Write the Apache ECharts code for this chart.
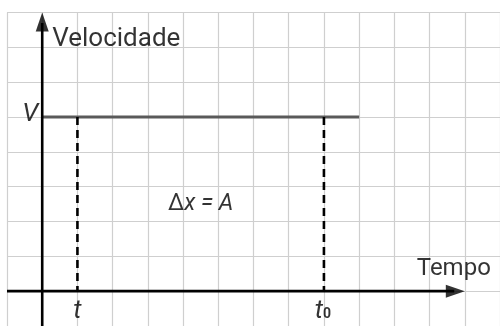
<!DOCTYPE html>
<html>
<head>
<meta charset="utf-8">
<script src="https://cdn.jsdelivr.net/npm/echarts@6/dist/echarts.min.js"></script>
<style>
  html, body { margin: 0; padding: 0; background: #ffffff; }
  #chart { width: 500px; height: 326px; }
</style>
</head>
<body>
<div id="chart"></div>
<script>
// Constant-velocity graph: v = V between t and t0; the area under it is the displacement.
const xRange = [-1, 13];          // time axis extent (grid cells)
const yRange = [-1, 8];           // velocity axis extent (grid cells)
const timeStart = 1;              // t
const timeEnd = 8;                // t0
const velocity = 5;               // V
const velocityLineEnd = 9;        // where the V line stops
const timeArrowEnd = 12;          // tip of the time axis arrow
const velocityArrowEnd = 8;       // tip of the velocity axis arrow

const axisLabels = { y: 'Velocidade', x: 'Tempo' };

const FONT = 'Roboto';

const chart = echarts.init(document.getElementById('chart'), null, { renderer: 'canvas' });

const dashed = { color: '#000', width: 2.6, type: [8, 5] };

function labelPoint(coord, label) {
  return { value: coord, label: Object.assign({ show: true }, label) };
}

chart.setOption({
  animation: false,
  backgroundColor: '#ffffff',
  grid: { left: 7, top: 12.5, width: 493, height: 315 },
  xAxis: {
    type: 'value', min: xRange[0], max: xRange[1], interval: 1,
    axisLine: { show: false }, axisTick: { show: false }, axisLabel: { show: false },
    splitLine: { show: true, lineStyle: { color: '#cfcfcf', width: 1.2 } }
  },
  yAxis: {
    type: 'value', min: yRange[0], max: yRange[1], interval: 1,
    axisLine: { show: false }, axisTick: { show: false }, axisLabel: { show: false },
    splitLine: { show: true, lineStyle: { color: '#cfcfcf', width: 1.2 } }
  },
  series: [
    // V line
    {
      type: 'line', symbol: 'none', z: 3,
      lineStyle: { color: '#5a5a5a', width: 3 },
      data: [[0, velocity], [velocityLineEnd, velocity]]
    },
    // dashed line at t
    {
      type: 'line', symbol: 'none', z: 3, lineStyle: dashed,
      data: [[timeStart, velocity], [timeStart, 0]]
    },
    // dashed line at t0
    {
      type: 'line', symbol: 'none', z: 3, lineStyle: dashed,
      data: [[timeEnd, velocity], [timeEnd, 0]]
    },
    // time axis
    {
      type: 'line', symbol: 'none', z: 5,
      lineStyle: { color: '#000', width: 2.6 },
      data: [[xRange[0], 0], [timeArrowEnd - 0.3, 0]]
    },
    // velocity axis
    {
      type: 'line', symbol: 'none', z: 5,
      lineStyle: { color: '#000', width: 2.6 },
      data: [[0, yRange[0]], [0, velocityArrowEnd - 0.3]]
    },
    // arrow heads
    {
      type: 'scatter', z: 6, silent: true,
      itemStyle: { color: '#000' },
      data: [
        { value: [timeArrowEnd, 0], symbol: 'triangle', symbolSize: [13, 19], symbolRotate: -90, symbolOffset: [-9.5, 0] },
        { value: [0, velocityArrowEnd], symbol: 'triangle', symbolSize: [13, 19], symbolOffset: [0, 9.5] }
      ]
    },
    // text labels
    {
      type: 'scatter', z: 7, silent: true, symbolSize: 0,
      label: { fontFamily: FONT, color: '#000' },
      data: [
        labelPoint([0, velocityArrowEnd], {
          formatter: axisLabels.y, fontSize: 26, align: 'left', verticalAlign: 'middle',
          position: 'inside', offset: [10, 26.5]
        }),
        labelPoint([timeArrowEnd, 0], {
          formatter: axisLabels.x, fontSize: 24, align: 'center', verticalAlign: 'middle',
          position: 'inside', offset: [-11, -22]
        }),
        labelPoint([0, velocity], {
          formatter: 'V', fontSize: 26, fontStyle: 'italic', align: 'right', verticalAlign: 'middle',
          position: 'inside', offset: [-4, -2.5]
        }),
        labelPoint([timeStart, 0], {
          formatter: 't', fontSize: 26, fontStyle: 'italic', align: 'center', verticalAlign: 'middle',
          position: 'inside', offset: [0, 20]
        }),
        labelPoint([timeEnd, 0], {
          formatter: '{t|t}{s|0}', align: 'center', verticalAlign: 'middle',
          position: 'inside', offset: [-1, 20],
          rich: {
            t: { fontFamily: FONT, fontSize: 26, fontStyle: 'italic', color: '#000' },
            s: { fontFamily: FONT, fontSize: 14, fontWeight: 'bold', color: '#000', padding: [7, 0, 0, 0] }
          }
        }),
        labelPoint([(timeStart + timeEnd) / 2, velocity / 2], {
          formatter: '{d|Δ}{i|x = A}', align: 'center', verticalAlign: 'middle',
          position: 'inside', offset: [0, 0],
          rich: {
            d: { fontFamily: FONT, fontSize: 23, color: '#000' },
            i: { fontFamily: FONT, fontSize: 23, fontStyle: 'italic', color: '#000' }
          }
        })
      ]
    }
  ]
});
</script>
</body>
</html>
